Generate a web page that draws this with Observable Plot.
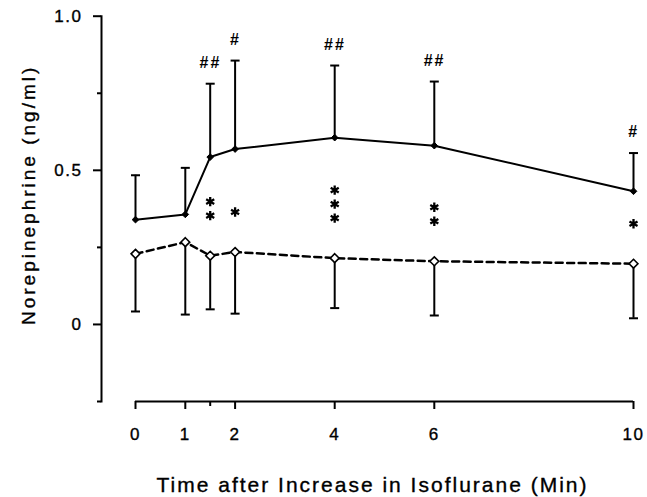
<!DOCTYPE html>
<html>
<head>
<meta charset="utf-8">
<script src="https://cdn.jsdelivr.net/npm/d3@7"></script>
<script src="https://cdn.jsdelivr.net/npm/@observablehq/plot@0.6"></script>
<style>
  html, body { margin: 0; padding: 0; background: #fff; }
  #chart svg { display: block; }
</style>
</head>
<body>
<div id="chart"></div>
<script>
// ---- data ----
const times        = [0, 1, 1.5, 2, 4, 6, 10];
const filledMean   = [0.340, 0.357, 0.543, 0.569, 0.606, 0.580, 0.432];
const filledUpper  = [0.484, 0.508, 0.781, 0.856, 0.840, 0.788, 0.556];
const openMean     = [0.229, 0.267, 0.223, 0.235, 0.215, 0.205, 0.197];
const openLower    = [0.042, 0.032, 0.049, 0.035, 0.053, 0.029, 0.020];
const hashLabels   = ["", "", "##", "#", "##", "##", "#"];
const starCounts   = [0, 0, 2, 1, 3, 2, 1];

const xTickValues  = [0, 1, 2, 4, 6, 10];
const xTickLabels  = ["0", "1", "2", "4", "6", "10"];
const xMinorTicks  = [1.5];
const yMajorTicks  = [0, 0.5, 1.0];
const yMajorLabels = ["0", "0.5", "1.0"];
const yMinorTicks  = [-0.25, 0.25, 0.75];
const yDomain      = [-0.25, 1.0];

const xTitle = "Time after Increase in Isoflurane (Min)";
const yTitle = "Norepinephrine (ng/ml)";

// ---- table built from arrays ----
const rows = times.map((t, i) => ({
  t, fm: filledMean[i], fu: filledUpper[i], om: openMean[i], ol: openLower[i],
  hash: hashLabels[i], stars: starCounts[i]
}));
const starRows = rows.flatMap(r => d3.range(r.stars).map(k => ({t: r.t, om: r.om, k})));

const capSymbol = { draw(ctx) { ctx.moveTo(-4.5, 0); ctx.lineTo(4.5, 0); } };
const font = "'Liberation Sans', Arial, Helvetica, sans-serif";

const starMarks = [0, 1, 2].map(k =>
  Plot.dot(starRows.filter(d => d.k === k), {
    x: "t", y: "om", dy: -40 - 14 * k, symbol: "asterisk", r: 4.4,
    stroke: "black", strokeWidth: 2.3
  })
);

const chart = Plot.plot({
  width: 647,
  height: 497,
  marginLeft: 101,
  marginRight: 14,
  marginTop: 15.7,
  marginBottom: 96,
  style: { fontFamily: font, background: "white", color: "black" },
  x: { domain: [0, 10], range: [135, 633] },
  y: { domain: yDomain },
  marks: [
    // y axis line
    Plot.frame({ anchor: "left", stroke: "black", strokeWidth: 2 }),
    Plot.axisY({ ticks: yMajorTicks, tickFormat: d => yMajorLabels[yMajorTicks.indexOf(d)],
      tickSize: 8, tickPadding: 11, fontSize: 17, strokeWidth: 2, label: null }),
    Plot.axisY({ ticks: yMinorTicks, tickFormat: () => "", tickSize: 4, strokeWidth: 2, label: null }),
    // x axis line
    Plot.ruleY([yDomain[0]], { x1: d3.min(times), x2: d3.max(times), stroke: "black", strokeWidth: 2 }),
    Plot.axisX({ ticks: xTickValues, tickFormat: d => xTickLabels[xTickValues.indexOf(d)],
      tickSize: 8, tickPadding: 18, fontSize: 17, strokeWidth: 2, label: null }),
    Plot.axisX({ ticks: xMinorTicks, tickFormat: () => "", tickSize: 5, strokeWidth: 2, label: null }),
    // series lines
    Plot.line(rows, { x: "t", y: "fm", stroke: "black", strokeWidth: 2 }),
    Plot.line(rows, { x: "t", y: "om", stroke: "black", strokeWidth: 2.5, strokeDasharray: "7,4.5" }),
    // error bars
    Plot.ruleX(rows, { x: "t", y1: "fm", y2: "fu", stroke: "black", strokeWidth: 2 }),
    Plot.dot(rows, { x: "t", y: "fu", symbol: capSymbol, stroke: "black", strokeWidth: 2, fill: "none" }),
    Plot.ruleX(rows, { x: "t", y1: "om", y2: "ol", stroke: "black", strokeWidth: 2 }),
    Plot.dot(rows, { x: "t", y: "ol", symbol: capSymbol, stroke: "black", strokeWidth: 2, fill: "none" }),
    // markers
    Plot.dot(rows, { x: "t", y: "fm", symbol: "diamond2", r: 3, fill: "black", stroke: "black", strokeWidth: 1 }),
    Plot.dot(rows, { x: "t", y: "om", symbol: "diamond2", r: 4, fill: "white", stroke: "black", strokeWidth: 1.6 }),
    // significance marks
    Plot.text(rows.filter(d => d.hash), { x: "t", y: "fu", text: "hash", dy: -21,
      fontSize: 16, fontWeight: "bold", fontStyle: "italic", fill: "black" }),
    ...starMarks,
    // titles
    Plot.text([yTitle], { frameAnchor: "left", textAnchor: "middle", lineAnchor: "middle",
      rotate: -90, dx: -73, dy: -14, fontSize: 19, fill: "black" }),
    Plot.text([xTitle], { frameAnchor: "bottom", lineAnchor: "middle", dx: 5, dy: 84, fontSize: 21, fill: "black" })
  ]
});

const sel = d3.select(chart).selectAll("text");
const heavy = function() { d3.select(this).style("stroke", "black").style("stroke-width", "0.35px"); };
sel.filter(function() { return this.textContent === xTitle; }).style("letter-spacing", "2px").each(heavy);
sel.filter(function() { return this.textContent === yTitle; }).style("letter-spacing", "3px").each(heavy);
sel.filter(function() { return this.textContent.includes("#"); }).style("letter-spacing", "2px");
sel.filter(function() { return /^[0-9.]+$/.test(this.textContent); }).style("letter-spacing", "1.5px").each(heavy);

document.getElementById("chart").append(chart);
</script>
</body>
</html>
